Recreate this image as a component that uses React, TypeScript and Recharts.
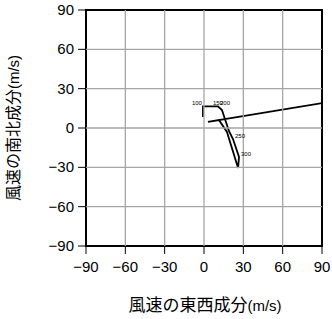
import React from 'react'
import { LineChart, Line, XAxis, YAxis, Label, ReferenceArea } from 'recharts';

// hodograph: east-west (u) and north-south (v) wind components
const uValues = [120, 3.0, 11.4, 17.5, 26, 26.7, 22.1, 19, 13.7, 10.7, 5.3, -0.8, -0.8];
const vValues = [24, 4.6, 6.1, -3, -30.5, -22, -8.4, -2.3, 13.7, 16.5, 16.5, 16.5, 8.4];
const levelLabels = ['', '', '', '', '', '300', '250', '', '', '200', '150', '100', ''];
const ticks = [-90, -60, -30, 0, 30, 60, 90];

const data = uValues.map((u, i) => ({ u, v: vValues[i], level: levelLabels[i] }));

const numFont = '"Liberation Sans", Arial, sans-serif';
const jpFont = '"Noto Sans CJK JP", sans-serif';
const gridColor = '#a6a6a6';

// plot box edges (margins + axis sizes)
const plotLeft = 86;
const plotRight = 322;
const plotTop = 10;
const plotBottom = 246;

const fmt = (t: number) => String(t).replace('-', '\u2212');

const XTick = (props: any) => {
  const { x, y, payload } = props;
  const inner = payload.value > -90 && payload.value < 90;
  return (
    <g>
      {inner && <line x1={x} x2={x} y1={plotTop} y2={plotBottom} stroke={gridColor} strokeWidth={1.3} />}
      <text x={x} y={y + 12} textAnchor="middle" fill="#000" fontSize={15} fontFamily={numFont}>
        {fmt(payload.value)}
      </text>
    </g>
  );
};

const YTick = (props: any) => {
  const { x, y, payload } = props;
  const inner = payload.value > -90 && payload.value < 90;
  return (
    <g>
      {inner && <line x1={plotLeft} x2={plotRight} y1={y} y2={y} stroke={gridColor} strokeWidth={1.3} />}
      <text x={x} y={y + 5} textAnchor="end" fill="#000" fontSize={15} fontFamily={numFont}>
        {fmt(payload.value)}
      </text>
    </g>
  );
};

const PointLabel = (props: any) => {
  const { x, y, index } = props;
  const txt = levelLabels[index];
  if (!txt) return null;
  const left = txt === '100';
  return (
    <text
      x={left ? x - 1 : x + 2}
      y={y - 1}
      textAnchor={left ? 'end' : 'start'}
      fontSize={6}
      fontFamily={numFont}
      fill="#000"
    >
      {txt}
    </text>
  );
};

const XTitle = () => (
  <text x={205} y={311} textAnchor="middle" fill="#000">
    <tspan fontFamily={jpFont} fontSize={17}>風速の東西成分</tspan>
    <tspan fontFamily={numFont} fontSize={15}>(m/s)</tspan>
  </text>
);

const YTitle = () => (
  <text x={19} y={128} textAnchor="middle" fill="#000" transform="rotate(-90 19 128)">
    <tspan fontFamily={jpFont} fontSize={16}>風速の南北成分</tspan>
    <tspan fontFamily={numFont} fontSize={15}>(m/s)</tspan>
  </text>
);

const App = (): JSX.Element => {
  return (
    <div style={{ position: 'absolute', left: 0, top: 0, width: 332, height: 319, background: '#fff' }}>
      <LineChart
        width={332}
        height={319}
        data={data}
        margin={{ top: 10, right: 10, left: 0, bottom: 0 }}
      >
        <XAxis
          type="number"
          dataKey="u"
          domain={[-90, 90]}
          ticks={ticks}
          allowDataOverflow
          height={73}
          tickSize={8}
          tickMargin={6}
          stroke="#000"
          tick={<XTick />}
        >
          <Label content={<XTitle />} />
        </XAxis>
        <YAxis
          type="number"
          dataKey="v"
          domain={[-90, 90]}
          ticks={ticks}
          allowDataOverflow
          width={86}
          tickSize={8}
          tickMargin={4}
          stroke="#000"
          tick={<YTick />}
        >
          <Label content={<YTitle />} />
        </YAxis>
        <ReferenceArea x1={-90} x2={90} y1={-90} y2={90} fill="none" stroke="#000" strokeWidth={2} ifOverflow="visible" />
        <Line
          type="linear"
          dataKey="v"
          stroke="#000"
          strokeWidth={1.8}
          dot={false}
          isAnimationActive={false}
          label={<PointLabel />}
        />
      </LineChart>
    </div>
  );
};

export default App;
